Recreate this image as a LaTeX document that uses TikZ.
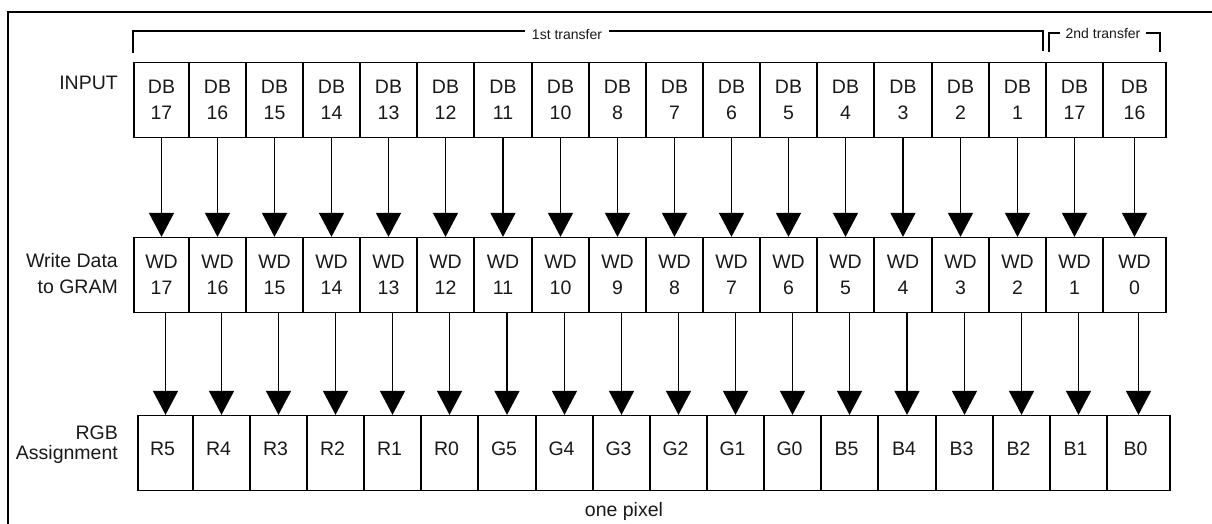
\documentclass[tikz,border=0pt]{standalone}
\usepackage{fontspec}
\setmainfont{Liberation Sans}
\usetikzlibrary{arrows.meta}
\newcommand\fsz{\fontsize{19.5}{26}\selectfont}
\newcommand\fsm{\fontsize{14}{16}\selectfont}
\tikzset{
  cell/.style={draw, line width=1.3pt, inner sep=0pt, minimum height=75pt, font=\fsz, align=center, text=black!90},
  rowlabel/.style={font=\fsz, align=right, anchor=east, inner sep=0pt, text=black!90},
  arr/.style={line width=1.4pt, -{Triangle[width=25pt,length=24pt]}},
  brk/.style={line width=1.2pt},
  small/.style={font=\fsm, inner sep=0pt, text=black!90}
}
\begin{document}
\begin{tikzpicture}[x=1pt,y=-1pt]
\useasboundingbox (0,0) rectangle (1212,523);
\fill[white] (0,0) rectangle (1212,523);
% outer frame (only left and top edges visible)
\draw[line width=2.6pt] (8,560) -- (8,12) -- (1240,12);

% row labels
\node[rowlabel] (lin) at (118,83) {INPUT};
\node[rowlabel] (lwd) at (118,274) {Write Data\\to GRAM};
\node[rowlabel, font=\fontsize{19.5}{20}\selectfont] (lrgb) at (118,445) {RGB\\Assignment};

% row 1: input
\foreach \l/\r/\t [count=\i] in {134/189/17,189/246/16,246/303/15,303/360/14,360/417/13,417/474/12,474/532/11,532/589/10,589/646/8,646/703/7,703/760/6,760/817/5,817/874/4,874/932/3,932/989/2,989/1046/1,1046/1103/17,1103/1166/16}{
  \pgfmathsetmacro\w{\r-\l}
  \pgfmathsetmacro\c{(\l+\r)/2}
  \node[cell, minimum width=\w pt] (db\i) at (\c,100) {DB\\\t};
}
% row 2: write data
\foreach \l/\r [count=\i] in {134/189,189/246,246/303,303/360,360/417,417/474,474/532,532/589,589/646,646/703,703/760,760/817,817/874,874/932,932/989,989/1046,1046/1103,1103/1166}{
  \pgfmathsetmacro\w{\r-\l}
  \pgfmathsetmacro\c{(\l+\r)/2}
  \pgfmathtruncatemacro\n{18-\i}
  \node[cell, minimum width=\w pt] (wd\i) at (\c,275) {WD\\\n};
}
% row 3: RGB assignment
\foreach \l/\r/\t [count=\i] in {138/193/R5,193/250/R4,250/307/R3,307/364/R2,364/421/R1,421/478/R0,478/536/G5,536/593/G4,593/650/G3,650/707/G2,707/764/G1,764/821/G0,821/878/B5,878/936/B4,936/993/B3,993/1050/B2,1050/1107/B1,1107/1170/B0}{
  \pgfmathsetmacro\w{\r-\l}
  \pgfmathsetmacro\c{(\l+\r)/2}
  \node[cell, minimum width=\w pt] (rgb\i) at (\c,453) {\hspace*{-6pt}\raisebox{9pt}{\t}};
}

% arrows
\foreach \i in {1,...,18}{
  \draw[arr] (db\i.south) -- (wd\i.north);
  \draw[arr] (rgb\i.north |- wd\i.south) -- (rgb\i.north);
}

% transfer brackets
\node[small, inner xsep=7pt] (t1) at (567,34) {1st transfer};
\draw[brk] (133,53) -- (133,31) -- (t1.west |- 0,31);
\draw[brk] (t1.east |- 0,31) -- (1043,31) -- (1043,51);
\node[small, inner xsep=5pt] (t2) at (1103,33) {2nd transfer};
\draw[brk] (1049,52) -- (1049,33) -- (t2.west |- 0,33);
\draw[brk] (t2.east |- 0,33) -- (1160,33) -- (1160,52);

% bottom label
\node[font=\fsz, inner sep=0pt, text=black!90] (px) at (624,511) {one pixel};
\end{tikzpicture}
\end{document}
